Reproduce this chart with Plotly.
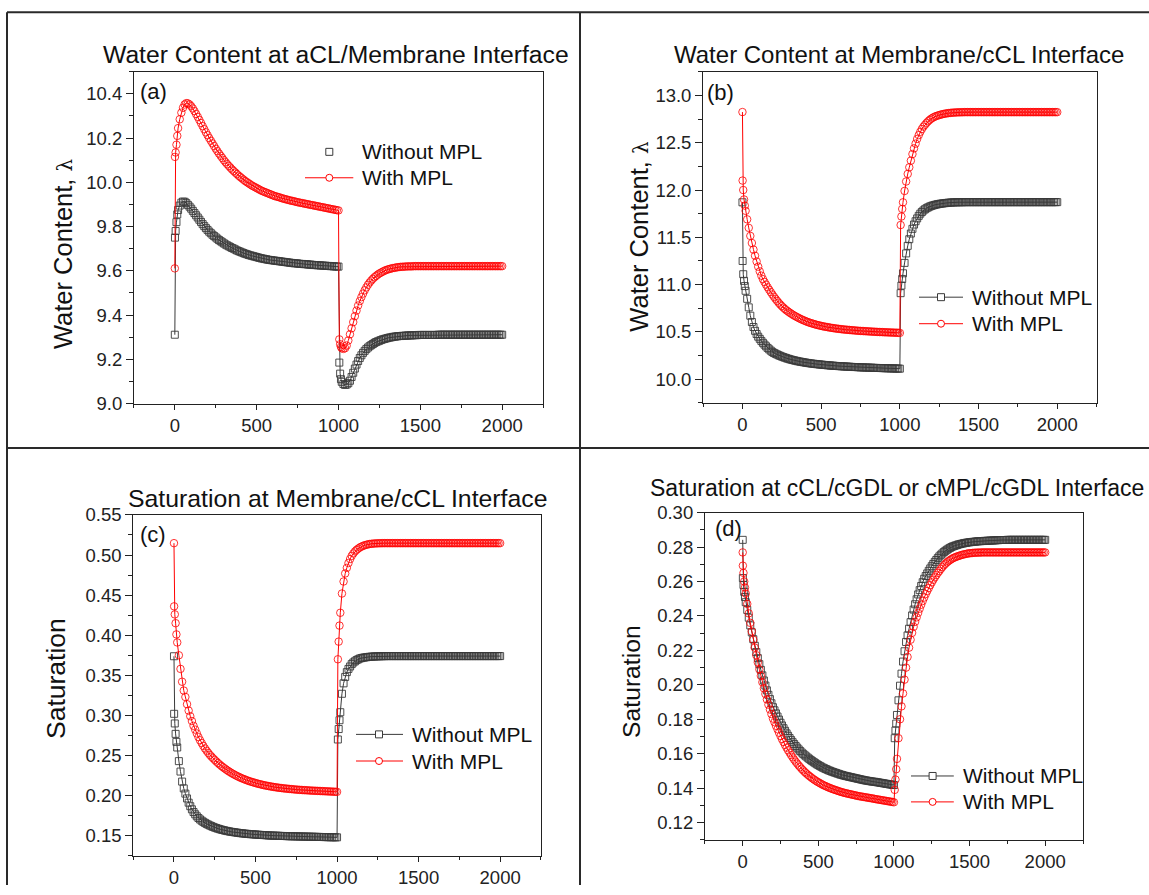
import plotly.graph_objects as go

# page geometry (reference is 1149 x 895)
W, H = 1149, 895
# measured vertical mapping of the rendered page: shown_y = Y_OFF + Y_K * figure_y
Y_OFF = 9.8
Y_K = 0.979

# ---------------- data (time in s) ----------------
T = [0, 1, 5, 10, 15, 20,
     30, 40, 50, 60, 70, 80, 90, 100, 110, 120, 130, 140, 150, 160, 170, 180, 190, 200,
     210, 220, 230, 240, 250, 260, 270, 280, 290, 300,
     310, 320, 330, 340, 350, 360, 370, 380, 390, 400,
     410, 420, 430, 440, 450, 460, 470, 480, 490, 500,
     510, 520, 530, 540, 550, 560, 570, 580, 590, 600,
     610, 620, 630, 640, 650, 660, 670, 680, 690, 700,
     710, 720, 730, 740, 750, 760, 770, 780, 790, 800,
     810, 820, 830, 840, 850, 860, 870, 880, 890, 900,
     910, 920, 930, 940, 950, 960, 970, 980, 990, 1000,
     1005, 1010, 1015, 1020,
     1030, 1040, 1050, 1060, 1070, 1080, 1090, 1100, 1110, 1120, 1130, 1140, 1150, 1160, 1170, 1180, 1190, 1200,
     1210, 1220, 1230, 1240, 1250, 1260, 1270, 1280, 1290, 1300,
     1310, 1320, 1330, 1340, 1350, 1360, 1370, 1380, 1390, 1400,
     1410, 1420, 1430, 1440, 1450, 1460, 1470, 1480, 1490, 1500,
     1510, 1520, 1530, 1540, 1550, 1560, 1570, 1580, 1590, 1600,
     1610, 1620, 1630, 1640, 1650, 1660, 1670, 1680, 1690, 1700,
     1710, 1720, 1730, 1740, 1750, 1760, 1770, 1780, 1790, 1800,
     1810, 1820, 1830, 1840, 1850, 1860, 1870, 1880, 1890, 1900,
     1910, 1920, 1930, 1940, 1950, 1960, 1970, 1980, 1990, 2000]

# (a) water content at aCL/membrane interface
A_WITHOUT = [9.311, 9.750, 9.780, 9.820, 9.855, 9.875,
             9.895, 9.908, 9.913, 9.912, 9.906, 9.898, 9.890, 9.881, 9.871, 9.861, 9.851, 9.841, 9.831, 9.821, 9.811, 9.802, 9.793, 9.785,
             9.777, 9.770, 9.763, 9.757, 9.751, 9.745, 9.739, 9.734, 9.729, 9.724,
             9.719, 9.715, 9.711, 9.707, 9.703, 9.700, 9.696, 9.692, 9.689, 9.686,
             9.683, 9.680, 9.677, 9.675, 9.672, 9.670, 9.668, 9.666, 9.664, 9.662,
             9.660, 9.658, 9.656, 9.655, 9.653, 9.652, 9.650, 9.649, 9.648, 9.647,
             9.646, 9.645, 9.644, 9.643, 9.642, 9.641, 9.640, 9.639, 9.638, 9.637,
             9.636, 9.635, 9.634, 9.634, 9.633, 9.632, 9.631, 9.631, 9.630, 9.630,
             9.629, 9.628, 9.628, 9.627, 9.626, 9.626, 9.625, 9.625, 9.624, 9.624,
             9.623, 9.623, 9.622, 9.622, 9.621, 9.621, 9.620, 9.620, 9.619, 9.619,
             9.185, 9.135, 9.110, 9.098,
             9.088, 9.084, 9.086, 9.092, 9.103, 9.120, 9.139, 9.158, 9.176, 9.192, 9.206, 9.218, 9.229, 9.238, 9.246, 9.253, 9.259, 9.264,
             9.269, 9.274, 9.278, 9.281, 9.284, 9.287, 9.290, 9.292, 9.294, 9.296,
             9.298, 9.299, 9.301, 9.302, 9.303, 9.304, 9.305, 9.305, 9.306, 9.306,
             9.307, 9.307, 9.308, 9.308, 9.308, 9.309, 9.309, 9.309, 9.310, 9.310,
             9.310, 9.310, 9.310, 9.310, 9.310, 9.310, 9.310, 9.310, 9.310, 9.310,
             9.311, 9.311, 9.311, 9.311, 9.311, 9.311, 9.311, 9.311, 9.311, 9.311,
             9.311, 9.311, 9.311, 9.311, 9.311, 9.311, 9.311, 9.311, 9.311, 9.311,
             9.311, 9.311, 9.311, 9.311, 9.311, 9.311, 9.311, 9.311, 9.311, 9.311,
             9.311, 9.311, 9.311, 9.311, 9.311, 9.311, 9.311, 9.311, 9.311, 9.311]
A_WITH = [9.611, 10.115, 10.135, 10.170, 10.210, 10.245,
          10.285, 10.315, 10.337, 10.352, 10.358, 10.357, 10.352, 10.344, 10.334, 10.322, 10.309, 10.296, 10.282, 10.268, 10.254, 10.240, 10.226, 10.213,
          10.200, 10.188, 10.176, 10.164, 10.152, 10.141, 10.130, 10.120, 10.110, 10.100,
          10.091, 10.082, 10.074, 10.066, 10.058, 10.051, 10.044, 10.037, 10.030, 10.024,
          10.018, 10.012, 10.006, 10.001, 9.996, 9.991, 9.986, 9.982, 9.978, 9.974,
          9.970, 9.966, 9.962, 9.959, 9.956, 9.953, 9.950, 9.947, 9.944, 9.941,
          9.938, 9.936, 9.934, 9.932, 9.929, 9.927, 9.925, 9.923, 9.921, 9.919,
          9.917, 9.916, 9.914, 9.912, 9.910, 9.909, 9.907, 9.906, 9.904, 9.903,
          9.901, 9.900, 9.898, 9.897, 9.895, 9.894, 9.892, 9.891, 9.889, 9.888,
          9.886, 9.885, 9.883, 9.882, 9.880, 9.879, 9.877, 9.876, 9.874, 9.873,
          9.290, 9.268, 9.256, 9.250,
          9.247, 9.250, 9.262, 9.285, 9.313, 9.340, 9.368, 9.395, 9.420, 9.443, 9.463, 9.481, 9.497, 9.512, 9.525, 9.537, 9.547, 9.556,
          9.564, 9.571, 9.577, 9.583, 9.588, 9.592, 9.596, 9.600, 9.603, 9.606,
          9.608, 9.610, 9.612, 9.613, 9.615, 9.616, 9.617, 9.618, 9.618, 9.619,
          9.619, 9.620, 9.620, 9.620, 9.620, 9.621, 9.621, 9.621, 9.621, 9.621,
          9.621, 9.621, 9.621, 9.621, 9.621, 9.621, 9.621, 9.621, 9.621, 9.621,
          9.621, 9.621, 9.621, 9.621, 9.621, 9.621, 9.621, 9.621, 9.621, 9.621,
          9.621, 9.621, 9.621, 9.621, 9.621, 9.621, 9.621, 9.621, 9.621, 9.621,
          9.621, 9.621, 9.621, 9.621, 9.621, 9.621, 9.621, 9.621, 9.621, 9.621,
          9.621, 9.621, 9.621, 9.621, 9.621, 9.621, 9.621, 9.621, 9.621, 9.621]

# (b) water content at membrane/cCL interface
B_WITHOUT = [11.870, 11.250, 11.110, 11.040, 10.985, 10.935,
             10.850, 10.760, 10.672, 10.605, 10.552, 10.512, 10.478, 10.450, 10.427, 10.405, 10.385, 10.366, 10.348, 10.331, 10.316, 10.302, 10.289, 10.278,
             10.270, 10.262, 10.254, 10.247, 10.240, 10.234, 10.228, 10.222, 10.217, 10.212,
             10.207, 10.203, 10.199, 10.195, 10.191, 10.188, 10.185, 10.182, 10.179, 10.176,
             10.173, 10.171, 10.168, 10.166, 10.164, 10.162, 10.160, 10.158, 10.156, 10.155,
             10.153, 10.151, 10.150, 10.148, 10.147, 10.145, 10.144, 10.143, 10.141, 10.140,
             10.139, 10.138, 10.137, 10.136, 10.135, 10.134, 10.133, 10.132, 10.131, 10.130,
             10.129, 10.129, 10.128, 10.127, 10.126, 10.126, 10.125, 10.124, 10.124, 10.123,
             10.122, 10.122, 10.121, 10.120, 10.120, 10.119, 10.119, 10.118, 10.118, 10.117,
             10.117, 10.116, 10.116, 10.115, 10.115, 10.114, 10.114, 10.113, 10.113, 10.112,
             10.910, 10.990, 11.060, 11.120,
             11.230, 11.330, 11.410, 11.480, 11.540, 11.590, 11.635, 11.670, 11.700, 11.727, 11.750, 11.768, 11.784, 11.797, 11.808, 11.817, 11.825, 11.832,
             11.837, 11.842, 11.846, 11.850, 11.853, 11.856, 11.858, 11.860, 11.862, 11.864,
             11.866, 11.867, 11.868, 11.869, 11.870, 11.870, 11.871, 11.871, 11.871, 11.871,
             11.872, 11.872, 11.872, 11.872, 11.872, 11.872, 11.872, 11.872, 11.872, 11.872,
             11.872, 11.872, 11.872, 11.872, 11.872, 11.872, 11.872, 11.872, 11.872, 11.872,
             11.872, 11.872, 11.872, 11.872, 11.872, 11.872, 11.872, 11.872, 11.872, 11.872,
             11.872, 11.872, 11.872, 11.872, 11.872, 11.872, 11.872, 11.872, 11.872, 11.872,
             11.872, 11.872, 11.872, 11.872, 11.872, 11.872, 11.872, 11.872, 11.872, 11.872,
             11.872, 11.872, 11.872, 11.872, 11.872, 11.872, 11.872, 11.872, 11.872, 11.872]
B_WITH = [12.824, 12.100, 12.000, 11.900, 11.835, 11.780,
          11.690, 11.600, 11.515, 11.440, 11.370, 11.305, 11.245, 11.190, 11.140, 11.095, 11.058, 11.028, 11.000, 10.972, 10.946, 10.921, 10.896, 10.872,
          10.850, 10.829, 10.809, 10.790, 10.773, 10.757, 10.742, 10.728, 10.716, 10.704,
          10.693, 10.682, 10.672, 10.663, 10.654, 10.645, 10.637, 10.629, 10.622, 10.615,
          10.608, 10.602, 10.596, 10.591, 10.586, 10.581, 10.576, 10.572, 10.568, 10.564,
          10.560, 10.557, 10.554, 10.551, 10.548, 10.545, 10.542, 10.540, 10.537, 10.535,
          10.533, 10.531, 10.529, 10.527, 10.525, 10.524, 10.522, 10.521, 10.519, 10.518,
          10.516, 10.515, 10.513, 10.512, 10.511, 10.510, 10.509, 10.508, 10.507, 10.506,
          10.505, 10.504, 10.503, 10.502, 10.501, 10.500, 10.499, 10.499, 10.498, 10.497,
          10.496, 10.496, 10.495, 10.494, 10.494, 10.493, 10.492, 10.492, 10.491, 10.490,
          11.630, 11.720, 11.800, 11.870,
          11.990, 12.090, 12.170, 12.240, 12.310, 12.380, 12.440, 12.490, 12.540, 12.580, 12.615, 12.645, 12.670, 12.690, 12.710, 12.727, 12.742, 12.755,
          12.765, 12.774, 12.781, 12.787, 12.792, 12.797, 12.801, 12.805, 12.808, 12.811,
          12.813, 12.815, 12.817, 12.818, 12.819, 12.820, 12.821, 12.821, 12.822, 12.822,
          12.823, 12.823, 12.823, 12.823, 12.823, 12.823, 12.823, 12.823, 12.823, 12.823,
          12.823, 12.823, 12.823, 12.823, 12.823, 12.823, 12.823, 12.823, 12.823, 12.823,
          12.823, 12.823, 12.823, 12.823, 12.823, 12.823, 12.823, 12.823, 12.823, 12.823,
          12.823, 12.823, 12.823, 12.823, 12.823, 12.823, 12.823, 12.823, 12.823, 12.823,
          12.823, 12.823, 12.823, 12.823, 12.823, 12.823, 12.823, 12.823, 12.823, 12.823,
          12.823, 12.823, 12.823, 12.823, 12.823, 12.823, 12.823, 12.823, 12.823, 12.823]

# (c) saturation at membrane/cCL interface
C_WITHOUT = [0.3738, 0.3020, 0.2900, 0.2770, 0.2670, 0.2600,
             0.2430, 0.2300, 0.2175, 0.2090, 0.2025, 0.1965, 0.1912, 0.1868, 0.1829, 0.1795, 0.1767, 0.1742, 0.1721, 0.1703, 0.1687, 0.1673, 0.1660, 0.1648,
             0.1638, 0.1628, 0.1619, 0.1610, 0.1602, 0.1595, 0.1588, 0.1582, 0.1576, 0.1571,
             0.1566, 0.1561, 0.1557, 0.1553, 0.1549, 0.1546, 0.1543, 0.1540, 0.1537, 0.1534,
             0.1531, 0.1529, 0.1527, 0.1525, 0.1523, 0.1521, 0.1519, 0.1518, 0.1516, 0.1515,
             0.1513, 0.1512, 0.1510, 0.1509, 0.1508, 0.1507, 0.1505, 0.1504, 0.1503, 0.1502,
             0.1501, 0.1500, 0.1500, 0.1499, 0.1498, 0.1497, 0.1497, 0.1496, 0.1495, 0.1494,
             0.1494, 0.1493, 0.1493, 0.1492, 0.1492, 0.1491, 0.1491, 0.1490, 0.1490, 0.1489,
             0.1489, 0.1488, 0.1488, 0.1487, 0.1487, 0.1486, 0.1486, 0.1485, 0.1485, 0.1484,
             0.1484, 0.1483, 0.1483, 0.1482, 0.1482, 0.1481, 0.1481, 0.1481, 0.1480, 0.1480,
             0.2700, 0.2830, 0.2940, 0.3040,
             0.3270, 0.3400, 0.3480, 0.3540, 0.3580, 0.3610, 0.3640, 0.3660, 0.3675, 0.3690, 0.3700, 0.3710, 0.3715, 0.3720, 0.3723, 0.3726, 0.3729, 0.3731,
             0.3733, 0.3734, 0.3735, 0.3736, 0.3737, 0.3738, 0.3738, 0.3739, 0.3739, 0.3740,
             0.3740, 0.3740, 0.3740, 0.3740, 0.3740, 0.3740, 0.3740, 0.3740, 0.3740, 0.3740,
             0.3740, 0.3740, 0.3740, 0.3740, 0.3740, 0.3740, 0.3740, 0.3740, 0.3740, 0.3740,
             0.3740, 0.3740, 0.3740, 0.3740, 0.3740, 0.3740, 0.3740, 0.3740, 0.3740, 0.3740,
             0.3740, 0.3740, 0.3740, 0.3740, 0.3740, 0.3740, 0.3740, 0.3740, 0.3740, 0.3740,
             0.3740, 0.3740, 0.3740, 0.3740, 0.3740, 0.3740, 0.3740, 0.3740, 0.3740, 0.3740,
             0.3740, 0.3740, 0.3740, 0.3740, 0.3740, 0.3740, 0.3740, 0.3740, 0.3740, 0.3740,
             0.3740, 0.3740, 0.3740, 0.3740, 0.3740, 0.3740, 0.3740, 0.3740, 0.3740, 0.3740]
C_WITH = [0.5148, 0.4360, 0.4260, 0.4150, 0.4010, 0.3910,
          0.3750, 0.3580, 0.3420, 0.3310, 0.3230, 0.3140, 0.3060, 0.2990, 0.2930, 0.2870, 0.2823, 0.2775, 0.2730, 0.2690, 0.2655, 0.2620, 0.2588, 0.2560,
          0.2533, 0.2508, 0.2486, 0.2465, 0.2445, 0.2425, 0.2406, 0.2388, 0.2371, 0.2355,
          0.2340, 0.2325, 0.2311, 0.2298, 0.2285, 0.2273, 0.2262, 0.2251, 0.2241, 0.2231,
          0.2222, 0.2213, 0.2205, 0.2197, 0.2189, 0.2182, 0.2175, 0.2169, 0.2163, 0.2157,
          0.2151, 0.2146, 0.2141, 0.2136, 0.2131, 0.2127, 0.2123, 0.2119, 0.2115, 0.2112,
          0.2108, 0.2105, 0.2102, 0.2099, 0.2096, 0.2094, 0.2091, 0.2089, 0.2087, 0.2085,
          0.2083, 0.2081, 0.2079, 0.2077, 0.2075, 0.2074, 0.2072, 0.2071, 0.2069, 0.2068,
          0.2067, 0.2066, 0.2064, 0.2063, 0.2062, 0.2061, 0.2060, 0.2059, 0.2058, 0.2057,
          0.2056, 0.2055, 0.2054, 0.2053, 0.2052, 0.2051, 0.2050, 0.2049, 0.2048, 0.2047,
          0.3700, 0.3920, 0.4120, 0.4280,
          0.4520, 0.4670, 0.4770, 0.4840, 0.4900, 0.4950, 0.4990, 0.5020, 0.5045, 0.5065, 0.5080, 0.5095, 0.5105, 0.5115, 0.5122, 0.5128, 0.5133, 0.5137,
          0.5140, 0.5142, 0.5144, 0.5145, 0.5146, 0.5147, 0.5147, 0.5148, 0.5148, 0.5148,
          0.5148, 0.5148, 0.5148, 0.5148, 0.5148, 0.5148, 0.5148, 0.5148, 0.5148, 0.5148,
          0.5148, 0.5148, 0.5148, 0.5148, 0.5148, 0.5148, 0.5148, 0.5148, 0.5148, 0.5148,
          0.5148, 0.5148, 0.5148, 0.5148, 0.5148, 0.5148, 0.5148, 0.5148, 0.5148, 0.5148,
          0.5148, 0.5148, 0.5148, 0.5148, 0.5148, 0.5148, 0.5148, 0.5148, 0.5148, 0.5148,
          0.5148, 0.5148, 0.5148, 0.5148, 0.5148, 0.5148, 0.5148, 0.5148, 0.5148, 0.5148,
          0.5148, 0.5148, 0.5148, 0.5148, 0.5148, 0.5148, 0.5148, 0.5148, 0.5148, 0.5148,
          0.5148, 0.5148, 0.5148, 0.5148, 0.5148, 0.5148, 0.5148, 0.5148, 0.5148, 0.5148]

# (d) saturation at cCL/cGDL or cMPL/cGDL interface
D_WITHOUT = [0.2842, 0.2620, 0.2580, 0.2540, 0.2510, 0.2480,
             0.2435, 0.2390, 0.2345, 0.2305, 0.2265, 0.2227, 0.2190, 0.2155, 0.2120, 0.2087, 0.2055, 0.2025, 0.1996, 0.1968, 0.1942, 0.1917, 0.1893, 0.1870,
             0.1852, 0.1834, 0.1816, 0.1798, 0.1780, 0.1764, 0.1748, 0.1733, 0.1718, 0.1704,
             0.1691, 0.1679, 0.1667, 0.1656, 0.1645, 0.1635, 0.1625, 0.1616, 0.1607, 0.1599,
             0.1591, 0.1584, 0.1577, 0.1570, 0.1563, 0.1557, 0.1551, 0.1545, 0.1539, 0.1534,
             0.1529, 0.1524, 0.1519, 0.1515, 0.1511, 0.1507, 0.1503, 0.1500, 0.1496, 0.1493,
             0.1490, 0.1487, 0.1484, 0.1481, 0.1478, 0.1476, 0.1473, 0.1471, 0.1469, 0.1467,
             0.1465, 0.1463, 0.1461, 0.1459, 0.1457, 0.1455, 0.1453, 0.1451, 0.1449, 0.1447,
             0.1445, 0.1444, 0.1442, 0.1441, 0.1439, 0.1438, 0.1437, 0.1436, 0.1434, 0.1433,
             0.1431, 0.1430, 0.1428, 0.1427, 0.1425, 0.1424, 0.1422, 0.1421, 0.1419, 0.1418,
             0.1690, 0.1735, 0.1775, 0.1825,
             0.1910, 0.1995, 0.2065, 0.2135, 0.2195, 0.2249, 0.2287, 0.2326, 0.2364, 0.2403, 0.2437, 0.2468, 0.2497, 0.2525, 0.2550, 0.2574, 0.2596, 0.2616,
             0.2632, 0.2647, 0.2662, 0.2676, 0.2689, 0.2702, 0.2714, 0.2725, 0.2736, 0.2746,
             0.2755, 0.2763, 0.2771, 0.2778, 0.2784, 0.2790, 0.2795, 0.2800, 0.2804, 0.2807,
             0.2810, 0.2813, 0.2816, 0.2818, 0.2820, 0.2822, 0.2824, 0.2825, 0.2827, 0.2828,
             0.2829, 0.2830, 0.2831, 0.2832, 0.2833, 0.2834, 0.2834, 0.2835, 0.2835, 0.2836,
             0.2836, 0.2837, 0.2837, 0.2838, 0.2838, 0.2839, 0.2839, 0.2840, 0.2840, 0.2841,
             0.2841, 0.2841, 0.2841, 0.2841, 0.2842, 0.2842, 0.2842, 0.2842, 0.2842, 0.2842,
             0.2842, 0.2842, 0.2842, 0.2842, 0.2842, 0.2842, 0.2842, 0.2842, 0.2842, 0.2842,
             0.2842, 0.2842, 0.2842, 0.2842, 0.2842, 0.2842, 0.2842, 0.2842, 0.2842, 0.2842]
D_WITH = [0.2769, 0.2692, 0.2650, 0.2600, 0.2565, 0.2530,
          0.2470, 0.2415, 0.2360, 0.2310, 0.2262, 0.2216, 0.2172, 0.2130, 0.2090, 0.2052, 0.2015, 0.1980, 0.1947, 0.1915, 0.1885, 0.1857, 0.1830, 0.1804,
          0.1783, 0.1762, 0.1742, 0.1722, 0.1703, 0.1685, 0.1668, 0.1651, 0.1635, 0.1620,
          0.1606, 0.1592, 0.1579, 0.1566, 0.1554, 0.1543, 0.1532, 0.1522, 0.1512, 0.1503,
          0.1494, 0.1486, 0.1478, 0.1471, 0.1464, 0.1457, 0.1451, 0.1445, 0.1439, 0.1434,
          0.1429, 0.1424, 0.1419, 0.1415, 0.1411, 0.1407, 0.1403, 0.1400, 0.1396, 0.1393,
          0.1390, 0.1387, 0.1384, 0.1381, 0.1378, 0.1376, 0.1373, 0.1371, 0.1369, 0.1367,
          0.1365, 0.1363, 0.1361, 0.1359, 0.1357, 0.1355, 0.1353, 0.1352, 0.1350, 0.1349,
          0.1347, 0.1346, 0.1344, 0.1343, 0.1341, 0.1340, 0.1338, 0.1336, 0.1335, 0.1333,
          0.1332, 0.1330, 0.1329, 0.1327, 0.1326, 0.1324, 0.1323, 0.1321, 0.1320, 0.1318,
          0.1390, 0.1450, 0.1510, 0.1570,
          0.1690, 0.1800, 0.1875, 0.1950, 0.2030, 0.2100, 0.2162, 0.2216, 0.2262, 0.2302, 0.2337, 0.2366, 0.2392, 0.2418, 0.2442, 0.2465, 0.2487, 0.2507,
          0.2527, 0.2545, 0.2562, 0.2579, 0.2595, 0.2610, 0.2624, 0.2637, 0.2650, 0.2661,
          0.2673, 0.2684, 0.2694, 0.2703, 0.2711, 0.2718, 0.2724, 0.2730, 0.2735, 0.2739,
          0.2743, 0.2746, 0.2749, 0.2752, 0.2755, 0.2757, 0.2759, 0.2761, 0.2763, 0.2764,
          0.2765, 0.2766, 0.2767, 0.2767, 0.2768, 0.2768, 0.2768, 0.2769, 0.2769, 0.2769,
          0.2769, 0.2769, 0.2769, 0.2769, 0.2769, 0.2769, 0.2769, 0.2769, 0.2769, 0.2769,
          0.2769, 0.2769, 0.2769, 0.2769, 0.2769, 0.2769, 0.2769, 0.2769, 0.2769, 0.2769,
          0.2769, 0.2769, 0.2769, 0.2769, 0.2769, 0.2769, 0.2769, 0.2769, 0.2769, 0.2769,
          0.2769, 0.2769, 0.2769, 0.2769, 0.2769, 0.2769, 0.2769, 0.2769, 0.2769, 0.2769]

SERIES_NAMES = ["Without MPL", "With MPL"]
PANEL_TITLES = ["Water Content at aCL/Membrane Interface",
                "Water Content at Membrane/cCL Interface",
                "Saturation at Membrane/cCL Interface",
                "Saturation at cCL/cGDL or cMPL/cGDL Interface"]
PANEL_LABELS = ["(a)", "(b)", "(c)", "(d)"]
LAMBDA_TITLE = "Water Content, <span style=\"font-size:20px;font-family:'DejaVu Serif'\">λ</span>"
Y_TITLES = [LAMBDA_TITLE, LAMBDA_TITLE, "Saturation", "Saturation"]

for name, arr in [("A_WITHOUT", A_WITHOUT), ("A_WITH", A_WITH), ("B_WITHOUT", B_WITHOUT), ("B_WITH", B_WITH),
                  ("C_WITHOUT", C_WITHOUT), ("C_WITH", C_WITH), ("D_WITHOUT", D_WITHOUT), ("D_WITH", D_WITH)]:
    if len(arr) != len(T):
        print("length mismatch", name, len(arr), len(T))

# ---------------- layout helpers (page pixel -> paper) ----------------
def px(x):
    return x / W

def py(y):
    yf = (y - Y_OFF) / Y_K
    yf = min(max(yf, 0.0), H)
    return 1 - yf / H

FONT = "Liberation Sans, Arial, sans-serif"
BLACK = "#3a3a3a"
RED = "#ff0000"

# plot boxes in page pixels: (left, right, top, bottom)
BOXES = [(133.9, 543.1, 70.7, 403.3),
         (703.1, 1096.6, 70.7, 402.7),
         (133.2, 540.9, 515.0, 856.7),
         (704.9, 1083.0, 512.7, 840.7)]
Y_RANGES = [(9.0, 10.5), (9.75, 13.25), (0.125, 0.55), (0.11, 0.30)]
Y_MAJOR = [(9.0, 0.2), (10.0, 0.5), (0.15, 0.05), (0.12, 0.02)]
Y_MINOR = [0.1, 0.25, 0.025, 0.01]
Y_FMT = [".1f", ".1f", ".2f", ".2f"]

fig = go.Figure()

data = [(A_WITHOUT, A_WITH), (B_WITHOUT, B_WITH), (C_WITHOUT, C_WITH), (D_WITHOUT, D_WITH)]
for i, (wo, w) in enumerate(data):
    sx = "x" if i == 0 else f"x{i+1}"
    sy = "y" if i == 0 else f"y{i+1}"
    fig.add_trace(go.Scatter(x=T, y=wo, mode="lines+markers", name=SERIES_NAMES[0],
                             xaxis=sx, yaxis=sy, showlegend=False,
                             line=dict(color=BLACK, width=1),
                             marker=dict(symbol="square-open", size=7, color=BLACK, line=dict(width=0.9, color=BLACK))))
    fig.add_trace(go.Scatter(x=T, y=w, mode="lines+markers", name=SERIES_NAMES[1],
                             xaxis=sx, yaxis=sy, showlegend=False,
                             line=dict(color=RED, width=1),
                             marker=dict(symbol="circle-open", size=7.5, color=RED, line=dict(width=0.8, color=RED))))

layout = dict(width=W, height=H, margin=dict(l=0, r=0, t=0, b=0, pad=0),
              paper_bgcolor="white", plot_bgcolor="white", showlegend=False,
              font=dict(family=FONT, color="#111"))

for i, (l, r, t, b) in enumerate(BOXES):
    xk = "xaxis" if i == 0 else f"xaxis{i+1}"
    yk = "yaxis" if i == 0 else f"yaxis{i+1}"
    xa = "x" if i == 0 else f"x{i+1}"
    ya = "y" if i == 0 else f"y{i+1}"
    layout[xk] = dict(domain=[px(l), px(r)], anchor=ya, range=[-250, 2250],
                      tick0=0, dtick=500, ticks="outside", ticklen=5, tickwidth=1, tickcolor="#222",
                      minor=dict(dtick=250, tick0=-250, ticks="outside", ticklen=3, tickwidth=1, tickcolor="#222"),
                      showline=True, mirror=True, linecolor="#222", linewidth=1,
                      showgrid=False, zeroline=False,
                      tickfont=dict(family=FONT, size=18.5, color="#222"))
    y0, dy = Y_MAJOR[i]
    layout[yk] = dict(domain=[py(b), py(t)], anchor=xa, range=list(Y_RANGES[i]),
                      tick0=y0, dtick=dy, tickformat=Y_FMT[i],
                      ticks="outside", ticklen=7, tickwidth=1, tickcolor="#222",
                      minor=dict(dtick=Y_MINOR[i], tick0=y0, ticks="outside", ticklen=4, tickwidth=1, tickcolor="#222"),
                      showline=True, mirror=True, linecolor="#222", linewidth=1,
                      showgrid=False, zeroline=False,
                      tickfont=dict(family=FONT, size=18.5, color="#222"))

annotations = []
shapes = []

# panel titles
TITLE_POS = [(335.7, 53.3, 24.7), (899.0, 53.3, 24), (337.2, 498.3, 24.8), (897.0, 488.3, 23)]
for (x, y, s), txt in zip(TITLE_POS, PANEL_TITLES):
    annotations.append(dict(text=txt, x=px(x), y=py(y), xref="paper", yref="paper",
                            xanchor="center", yanchor="middle", showarrow=False,
                            font=dict(family=FONT, size=s, color="#111")))

# panel labels
LABEL_POS = [(153.5, 91.0), (720.5, 91.7), (153.0, 535.0), (728.0, 528.3)]
for (x, y), txt in zip(LABEL_POS, PANEL_LABELS):
    annotations.append(dict(text=txt, x=px(x), y=py(y), xref="paper", yref="paper",
                            xanchor="center", yanchor="middle", showarrow=False,
                            font=dict(family=FONT, size=22, color="#111")))

# y-axis titles
YT_POS = [(63.0, 253.5, 25.5), (639.0, 236.0, 25.5), (55.5, 679.0, 26.5), (631.7, 681.7, 24.7)]
for (x, y, s), txt in zip(YT_POS, Y_TITLES):
    annotations.append(dict(text=txt, x=px(x), y=py(y), xref="paper", yref="paper",
                            xanchor="center", yanchor="middle", showarrow=False, textangle=-90,
                            font=dict(family=FONT, size=s, color="#111")))

# legends: (line x0, line x1, marker x, text x, row1 y, row2 y, first entry has line)
LEGENDS = [(305.0, 353.3, 329.3, 360.0, 151.0, 177.0, False),
           (919.0, 963.0, 941.0, 969.6, 296.7, 323.3, True),
           (356.0, 403.0, 379.0, 410.0, 735.0, 761.7, True),
           (911.0, 953.8, 932.6, 961.2, 776.7, 802.7, True)]
for (lx0, lx1, mx, tx, r1, r2, first_line) in LEGENDS:
    for row, (yy, col, sym, name) in enumerate([(r1, BLACK, "rect", SERIES_NAMES[0]),
                                                (r2, RED, "circle", SERIES_NAMES[1])]):
        if row == 1 or first_line:
            shapes.append(dict(type="line", xref="paper", yref="paper",
                               x0=px(lx0), x1=px(lx1), y0=py(yy), y1=py(yy),
                               line=dict(color=col, width=1)))
        hs = 3.5
        shapes.append(dict(type=sym, xref="paper", yref="paper",
                           x0=px(mx - hs), x1=px(mx + hs), y0=py(yy + hs), y1=py(yy - hs),
                           line=dict(color=col, width=1), fillcolor="white"))
        annotations.append(dict(text=name, x=px(tx), y=py(yy), xref="paper", yref="paper",
                                xanchor="left", yanchor="middle", showarrow=False,
                                font=dict(family=FONT, size=21, color="#111")))

# outer panel frame
FRAME = "#2a2a2a"
for (x0, y0, x1, y1) in [(7, 11, 1149, 11), (7, 11, 7, 895), (580, 11, 580, 895), (7, 448, 1149, 448)]:
    shapes.append(dict(type="line", xref="paper", yref="paper",
                       x0=px(x0), y0=py(y0), x1=px(x1), y1=py(y1),
                       line=dict(color=FRAME, width=2)))

layout["annotations"] = annotations
layout["shapes"] = shapes
fig.update_layout(**layout)

fig.write_html("out.html")
